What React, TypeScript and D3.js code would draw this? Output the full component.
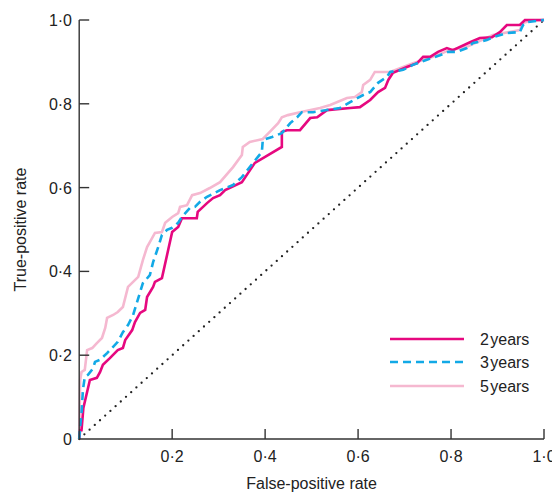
import React from "react";
import * as d3 from "d3";

type Pt = [number, number];

const xTicks = [0.2, 0.4, 0.6, 0.8, 1.0];
const yTicks = [0, 0.2, 0.4, 0.6, 0.8, 1.0];
const seriesNames = ["2\u200Ayears", "3\u200Ayears", "5\u200Ayears"];

const roc2y: Pt[] = [
  [0, 0], [0.002, 0.021], [0.005, 0.021], [0.009, 0.074], [0.023, 0.141], [0.038, 0.146],
  [0.045, 0.16], [0.051, 0.177], [0.066, 0.193], [0.083, 0.212], [0.094, 0.217], [0.099, 0.236],
  [0.114, 0.26], [0.12, 0.279], [0.131, 0.301], [0.142, 0.308], [0.146, 0.339], [0.159, 0.363],
  [0.163, 0.375], [0.178, 0.384], [0.2, 0.494], [0.213, 0.506], [0.221, 0.527], [0.253, 0.527],
  [0.255, 0.542], [0.275, 0.563], [0.288, 0.575], [0.303, 0.582], [0.314, 0.594], [0.35, 0.613],
  [0.378, 0.659], [0.436, 0.697], [0.436, 0.733], [0.447, 0.737], [0.475, 0.737], [0.497, 0.766],
  [0.512, 0.768], [0.533, 0.785], [0.583, 0.79], [0.604, 0.792], [0.626, 0.809], [0.643, 0.828],
  [0.658, 0.838], [0.665, 0.857], [0.675, 0.874], [0.705, 0.888], [0.727, 0.897], [0.74, 0.912],
  [0.755, 0.912], [0.772, 0.924], [0.791, 0.933], [0.804, 0.928], [0.841, 0.947], [0.862, 0.957],
  [0.888, 0.959], [0.905, 0.971], [0.92, 0.988], [0.948, 0.988], [0.959, 1.0], [1, 1],
];

const roc3y: Pt[] = [
  [0, 0], [0.002, 0.029], [0.005, 0.062], [0.008, 0.117], [0.012, 0.148], [0.019, 0.153],
  [0.03, 0.169], [0.034, 0.184], [0.045, 0.189], [0.06, 0.205], [0.073, 0.22], [0.083, 0.232],
  [0.094, 0.255], [0.105, 0.272], [0.116, 0.296], [0.124, 0.325], [0.137, 0.372], [0.152, 0.391],
  [0.159, 0.422], [0.17, 0.458], [0.178, 0.487], [0.189, 0.499], [0.2, 0.504], [0.213, 0.516],
  [0.221, 0.53], [0.238, 0.551], [0.249, 0.554], [0.26, 0.566], [0.275, 0.578], [0.303, 0.594],
  [0.331, 0.606], [0.35, 0.625], [0.374, 0.659], [0.393, 0.685], [0.395, 0.714], [0.415, 0.721],
  [0.436, 0.73], [0.454, 0.754], [0.469, 0.768], [0.479, 0.78], [0.503, 0.78], [0.533, 0.785],
  [0.561, 0.79], [0.583, 0.804], [0.611, 0.821], [0.626, 0.828], [0.643, 0.85], [0.662, 0.864],
  [0.669, 0.876], [0.697, 0.881], [0.718, 0.893], [0.748, 0.905], [0.776, 0.916], [0.794, 0.924],
  [0.813, 0.924], [0.834, 0.933], [0.847, 0.945], [0.877, 0.952], [0.89, 0.959], [0.92, 0.969],
  [0.948, 0.971], [0.955, 0.988], [0.963, 0.995], [0.985, 0.998], [1, 1],
];

const roc5y: Pt[] = [
  [0, 0], [0.002, 0.141], [0.005, 0.16], [0.012, 0.165], [0.017, 0.212], [0.028, 0.217],
  [0.038, 0.229], [0.049, 0.241], [0.056, 0.265], [0.06, 0.289], [0.073, 0.296], [0.083, 0.303],
  [0.094, 0.315], [0.105, 0.363], [0.127, 0.387], [0.137, 0.427], [0.146, 0.458], [0.152, 0.47],
  [0.163, 0.492], [0.178, 0.494], [0.185, 0.516], [0.2, 0.53], [0.213, 0.539], [0.217, 0.554],
  [0.232, 0.558], [0.243, 0.582], [0.26, 0.587], [0.281, 0.599], [0.303, 0.613], [0.331, 0.649],
  [0.35, 0.678], [0.352, 0.697], [0.367, 0.709], [0.395, 0.716], [0.41, 0.733], [0.428, 0.754],
  [0.436, 0.768], [0.449, 0.773], [0.475, 0.78], [0.518, 0.79], [0.54, 0.797], [0.576, 0.814],
  [0.593, 0.816], [0.608, 0.828], [0.611, 0.845], [0.626, 0.857], [0.636, 0.876], [0.669, 0.876],
  [0.69, 0.885], [0.718, 0.897], [0.761, 0.912], [0.797, 0.928], [0.834, 0.936], [0.89, 0.964],
  [0.948, 0.976], [0.955, 0.993], [0.97, 0.998], [1, 1],
];

const diagonal: Pt[] = [[0, 0], [1, 1]];

const W = 552;
const H = 493;
const X0 = 79.2;
const X1 = 544;
const Y0 = 439;
const Y1 = 20;
const FONT = "'Liberation Sans', Arial, Helvetica, sans-serif";
const AXIS = "#333333";

const fmt = (v: number) => (v === 0 ? "0" : d3.format(".1f")(v).replace(".", "\u00b7"));

export default function App() {
  const x = d3.scaleLinear().domain([0, 1]).range([X0, X1]);
  const y = d3.scaleLinear().domain([0, 1]).range([Y0, Y1]);
  const line = d3.line<Pt>().x((d) => x(d[0])).y((d) => y(d[1]));

  const series = [
    { name: seriesNames[2], data: roc5y, color: "#f5b8d0", dash: undefined as string | undefined },
    { name: seriesNames[0], data: roc2y, color: "#e6087f", dash: undefined as string | undefined },
    { name: seriesNames[1], data: roc3y, color: "#12a9e6", dash: "8 5" },
  ];
  const legendOrder = [series[1], series[2], series[0]];
  const legendY = [339, 362, 386];

  return (
    <svg
      width={W}
      height={H}
      style={{ position: "absolute", left: 0, top: 0, background: "#fff" }}
      fontFamily={FONT}
    >
      <path
        d={line(diagonal) || ""}
        fill="none"
        stroke="#222"
        strokeWidth={2.3}
        strokeDasharray="0 7"
        strokeLinecap="round"
      />
      {series.map((s) => (
        <path
          key={s.name}
          d={line(s.data) || ""}
          fill="none"
          stroke={s.color}
          strokeWidth={2.6}
          strokeDasharray={s.dash}
          strokeLinejoin="miter"
        />
      ))}
      <line x1={X0} x2={X0} y1={Y1} y2={Y0} stroke={AXIS} strokeWidth={1.4} />
      <line x1={X0} x2={X1} y1={Y0} y2={Y0} stroke={AXIS} strokeWidth={1.4} />
      {yTicks.map((t) => (
        <g key={"y" + t}>
          {t !== 0 && <line x1={X0} x2={X0 + 10} y1={y(t)} y2={y(t)} stroke={AXIS} strokeWidth={1.4} />}
          <text x={72} y={y(t) + 6} textAnchor="end" fontSize={16} fill="#222">
            {fmt(t)}
          </text>
        </g>
      ))}
      {xTicks.map((t) => (
        <g key={"x" + t}>
          <line x1={x(t)} x2={x(t)} y1={Y0} y2={Y0 - 10} stroke={AXIS} strokeWidth={1.4} />
          <text x={x(t)} y={462} textAnchor="middle" fontSize={16} fill="#222">
            {fmt(t)}
          </text>
        </g>
      ))}
      <text x={(X0 + X1) / 2} y={489} textAnchor="middle" fontSize={16} fill="#222">
        False-positive rate
      </text>
      <text
        transform={`translate(26, ${(Y0 + Y1) / 2}) rotate(-90)`}
        textAnchor="middle"
        fontSize={16}
        fill="#222"
      >
        True-positive rate
      </text>
      {legendOrder.map((s, i) => (
        <g key={"lg" + s.name}>
          <line
            x1={390}
            x2={464}
            y1={legendY[i]}
            y2={legendY[i]}
            stroke={s.color}
            strokeWidth={2.6}
            strokeDasharray={s.dash}
          />
          <text x={480} y={legendY[i] + 6} fontSize={16} fill="#222">
            {s.name}
          </text>
        </g>
      ))}
    </svg>
  );
}
